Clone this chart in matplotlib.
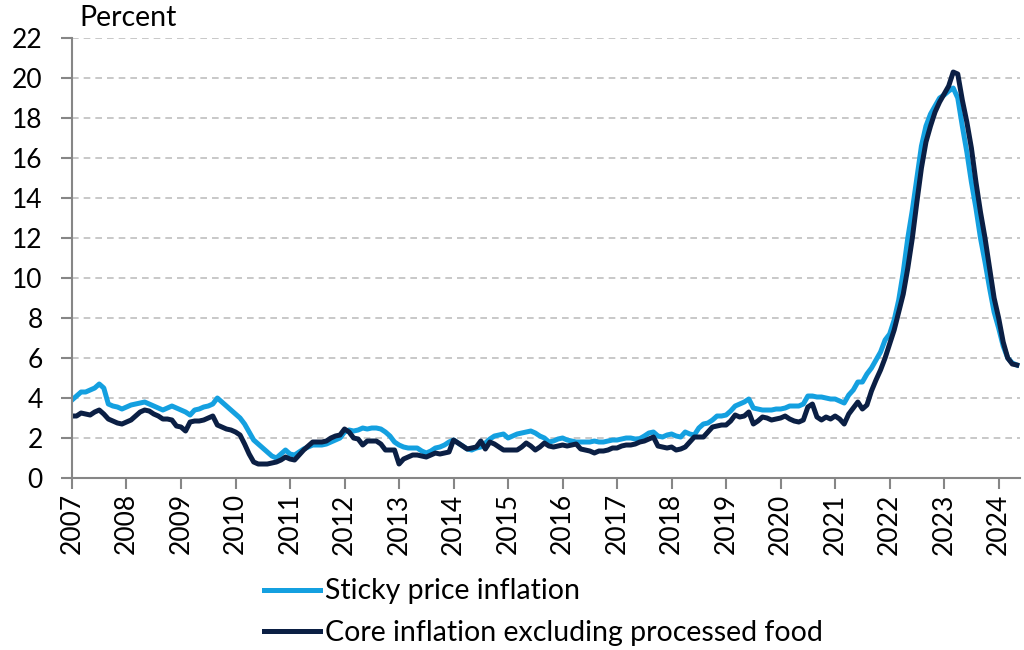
import numpy as np
import matplotlib
matplotlib.use('Agg')
import matplotlib.pyplot as plt

# monthly values, Jan 2007 .. May 2024
sticky = [
    3.9, 4.1, 4.3, 4.3, 4.4, 4.5, 4.7, 4.5, 3.7, 3.6, 3.55, 3.45,      # 2007
    3.55, 3.65, 3.7, 3.75, 3.8, 3.7, 3.6, 3.5, 3.4, 3.5, 3.6, 3.5,     # 2008
    3.4, 3.3, 3.15, 3.4, 3.45, 3.55, 3.6, 3.7, 4.0, 3.8, 3.6, 3.4,     # 2009
    3.2, 3.0, 2.7, 2.3, 1.9, 1.7, 1.5, 1.3, 1.1, 1.0, 1.2, 1.4,        # 2010
    1.2, 1.15, 1.3, 1.45, 1.55, 1.65, 1.65, 1.65, 1.7, 1.8, 1.9, 2.0,  # 2011
    2.3, 2.4, 2.35, 2.4, 2.5, 2.45, 2.5, 2.5, 2.45, 2.3, 2.1, 1.8,     # 2012
    1.65, 1.55, 1.5, 1.5, 1.5, 1.35, 1.25, 1.35, 1.5, 1.55, 1.65, 1.8, # 2013
    1.9, 1.75, 1.6, 1.45, 1.4, 1.5, 1.55, 1.75, 1.95, 2.1, 2.15, 2.2,  # 2014
    2.0, 2.1, 2.2, 2.25, 2.3, 2.35, 2.25, 2.1, 2.0, 1.8, 1.85, 1.95,   # 2015
    2.0, 1.9, 1.85, 1.8, 1.8, 1.8, 1.8, 1.85, 1.8, 1.8, 1.85, 1.9,     # 2016
    1.9, 1.95, 2.0, 2.0, 1.95, 1.97, 2.1, 2.25, 2.3, 2.1, 2.05, 2.15,  # 2017
    2.2, 2.1, 2.05, 2.3, 2.2, 2.15, 2.5, 2.7, 2.75, 2.9, 3.1, 3.1,     # 2018
    3.15, 3.35, 3.6, 3.7, 3.8, 3.95, 3.5, 3.45, 3.4, 3.4, 3.4, 3.45,   # 2019
    3.45, 3.5, 3.6, 3.6, 3.6, 3.7, 4.1, 4.1, 4.05, 4.05, 4.0, 3.95,    # 2020
    3.95, 3.85, 3.75, 4.15, 4.4, 4.8, 4.8, 5.2, 5.5, 5.9, 6.3, 6.9,    # 2021
    7.2, 7.9, 8.9, 10.3, 12.0, 13.4, 15.0, 16.6, 17.6, 18.2, 18.6, 19.0,  # 2022
    19.15, 19.35, 19.5, 19.0, 17.6, 16.3, 14.8, 13.5, 12.0, 10.8, 9.5, 8.3,  # 2023
    7.5, 6.6, 6.0, 5.75, 5.65,                                          # 2024
]
core = [
    3.1, 3.1, 3.25, 3.2, 3.15, 3.3, 3.4, 3.2, 2.95, 2.85, 2.75, 2.7,   # 2007
    2.8, 2.9, 3.1, 3.3, 3.4, 3.35, 3.2, 3.1, 2.95, 2.95, 2.9, 2.6,     # 2008
    2.55, 2.35, 2.8, 2.85, 2.85, 2.9, 3.0, 3.1, 2.65, 2.55, 2.45, 2.4, # 2009
    2.3, 2.15, 1.7, 1.2, 0.8, 0.7, 0.7, 0.7, 0.75, 0.8, 0.9, 1.05,     # 2010
    0.95, 0.9, 1.15, 1.4, 1.6, 1.8, 1.8, 1.8, 1.85, 2.0, 2.1, 2.15,    # 2011
    2.45, 2.3, 2.0, 1.95, 1.65, 1.85, 1.85, 1.85, 1.7, 1.4, 1.4, 1.4,  # 2012
    0.7, 0.95, 1.05, 1.15, 1.15, 1.1, 1.05, 1.15, 1.25, 1.2, 1.25, 1.3,  # 2013
    1.9, 1.75, 1.6, 1.45, 1.5, 1.55, 1.85, 1.45, 1.8, 1.7, 1.55, 1.4,  # 2014
    1.4, 1.4, 1.4, 1.55, 1.75, 1.6, 1.4, 1.55, 1.75, 1.6, 1.55, 1.6,   # 2015
    1.65, 1.6, 1.65, 1.7, 1.45, 1.4, 1.35, 1.25, 1.35, 1.35, 1.4, 1.5, # 2016
    1.5, 1.6, 1.65, 1.65, 1.7, 1.8, 1.85, 1.95, 2.05, 1.6, 1.55, 1.5,  # 2017
    1.55, 1.4, 1.45, 1.55, 1.8, 2.05, 2.05, 2.05, 2.3, 2.55, 2.6, 2.65,  # 2018
    2.65, 2.85, 3.15, 3.05, 3.1, 3.3, 2.7, 2.85, 3.05, 3.0, 2.9, 2.95, # 2019
    3.0, 3.1, 2.95, 2.85, 2.8, 2.9, 3.55, 3.7, 3.05, 2.9, 3.05, 2.95,  # 2020
    3.1, 2.95, 2.7, 3.2, 3.5, 3.8, 3.45, 3.65, 4.35, 4.9, 5.4, 6.0,    # 2021
    6.7, 7.4, 8.3, 9.2, 10.5, 12.0, 13.8, 15.5, 16.8, 17.6, 18.3, 18.8,  # 2022
    19.2, 19.6, 20.3, 20.2, 18.9, 17.8, 16.5, 14.8, 13.3, 12.0, 10.5, 9.0,  # 2023
    8.0, 6.8, 6.0, 5.7, 5.65,                                           # 2024
]
years = list(range(2007, 2025))
labels = ['Sticky price inflation', 'Core inflation excluding processed food']

t = 2007 + np.arange(len(sticky)) / 12.0

plt.rcParams['font.family'] = ['Lato', 'DejaVu Sans']
fig = plt.figure(figsize=(10.24, 6.5), dpi=100)
ax = fig.add_axes([0.0703, 0.2646, 0.9257, 0.6769])

ax.plot(t, sticky, color='#14a0e0', lw=3.6, label=labels[0], solid_joinstyle='round')
ax.plot(t, core, color='#0b1f44', lw=3.6, label=labels[1], solid_joinstyle='round')

ax.set_xlim(2007, 2024.39)
ax.set_ylim(0, 22)
ax.set_yticks(range(0, 23, 2))
ax.set_xticks(years)
ax.set_xticklabels([str(y) for y in years], rotation=90)
ax.grid(axis='y', color='#bfbfbf', linestyle=(0, (4, 3)), lw=1.2)
ax.set_axisbelow(True)
for s in ['top', 'right']:
    ax.spines[s].set_visible(False)
for s in ['left', 'bottom']:
    ax.spines[s].set_color('#868686')
    ax.spines[s].set_linewidth(1.5)
ax.tick_params(axis='both', color='#868686', width=1.5, length=8, labelsize=19)
ax.tick_params(axis='y', pad=13)
ax.tick_params(axis='x', pad=3)

fig.text(0.078, 0.952, 'Percent', fontsize=20.5, ha='left', va='bottom')

fig.legend(loc='center left', bbox_to_anchor=(0.258, 0.058), frameon=False,
           fontsize=20.5, handlelength=1.95, handletextpad=0.18, labelspacing=0.55,
           borderpad=0, borderaxespad=0)

fig.savefig('out.png', dpi=100)
